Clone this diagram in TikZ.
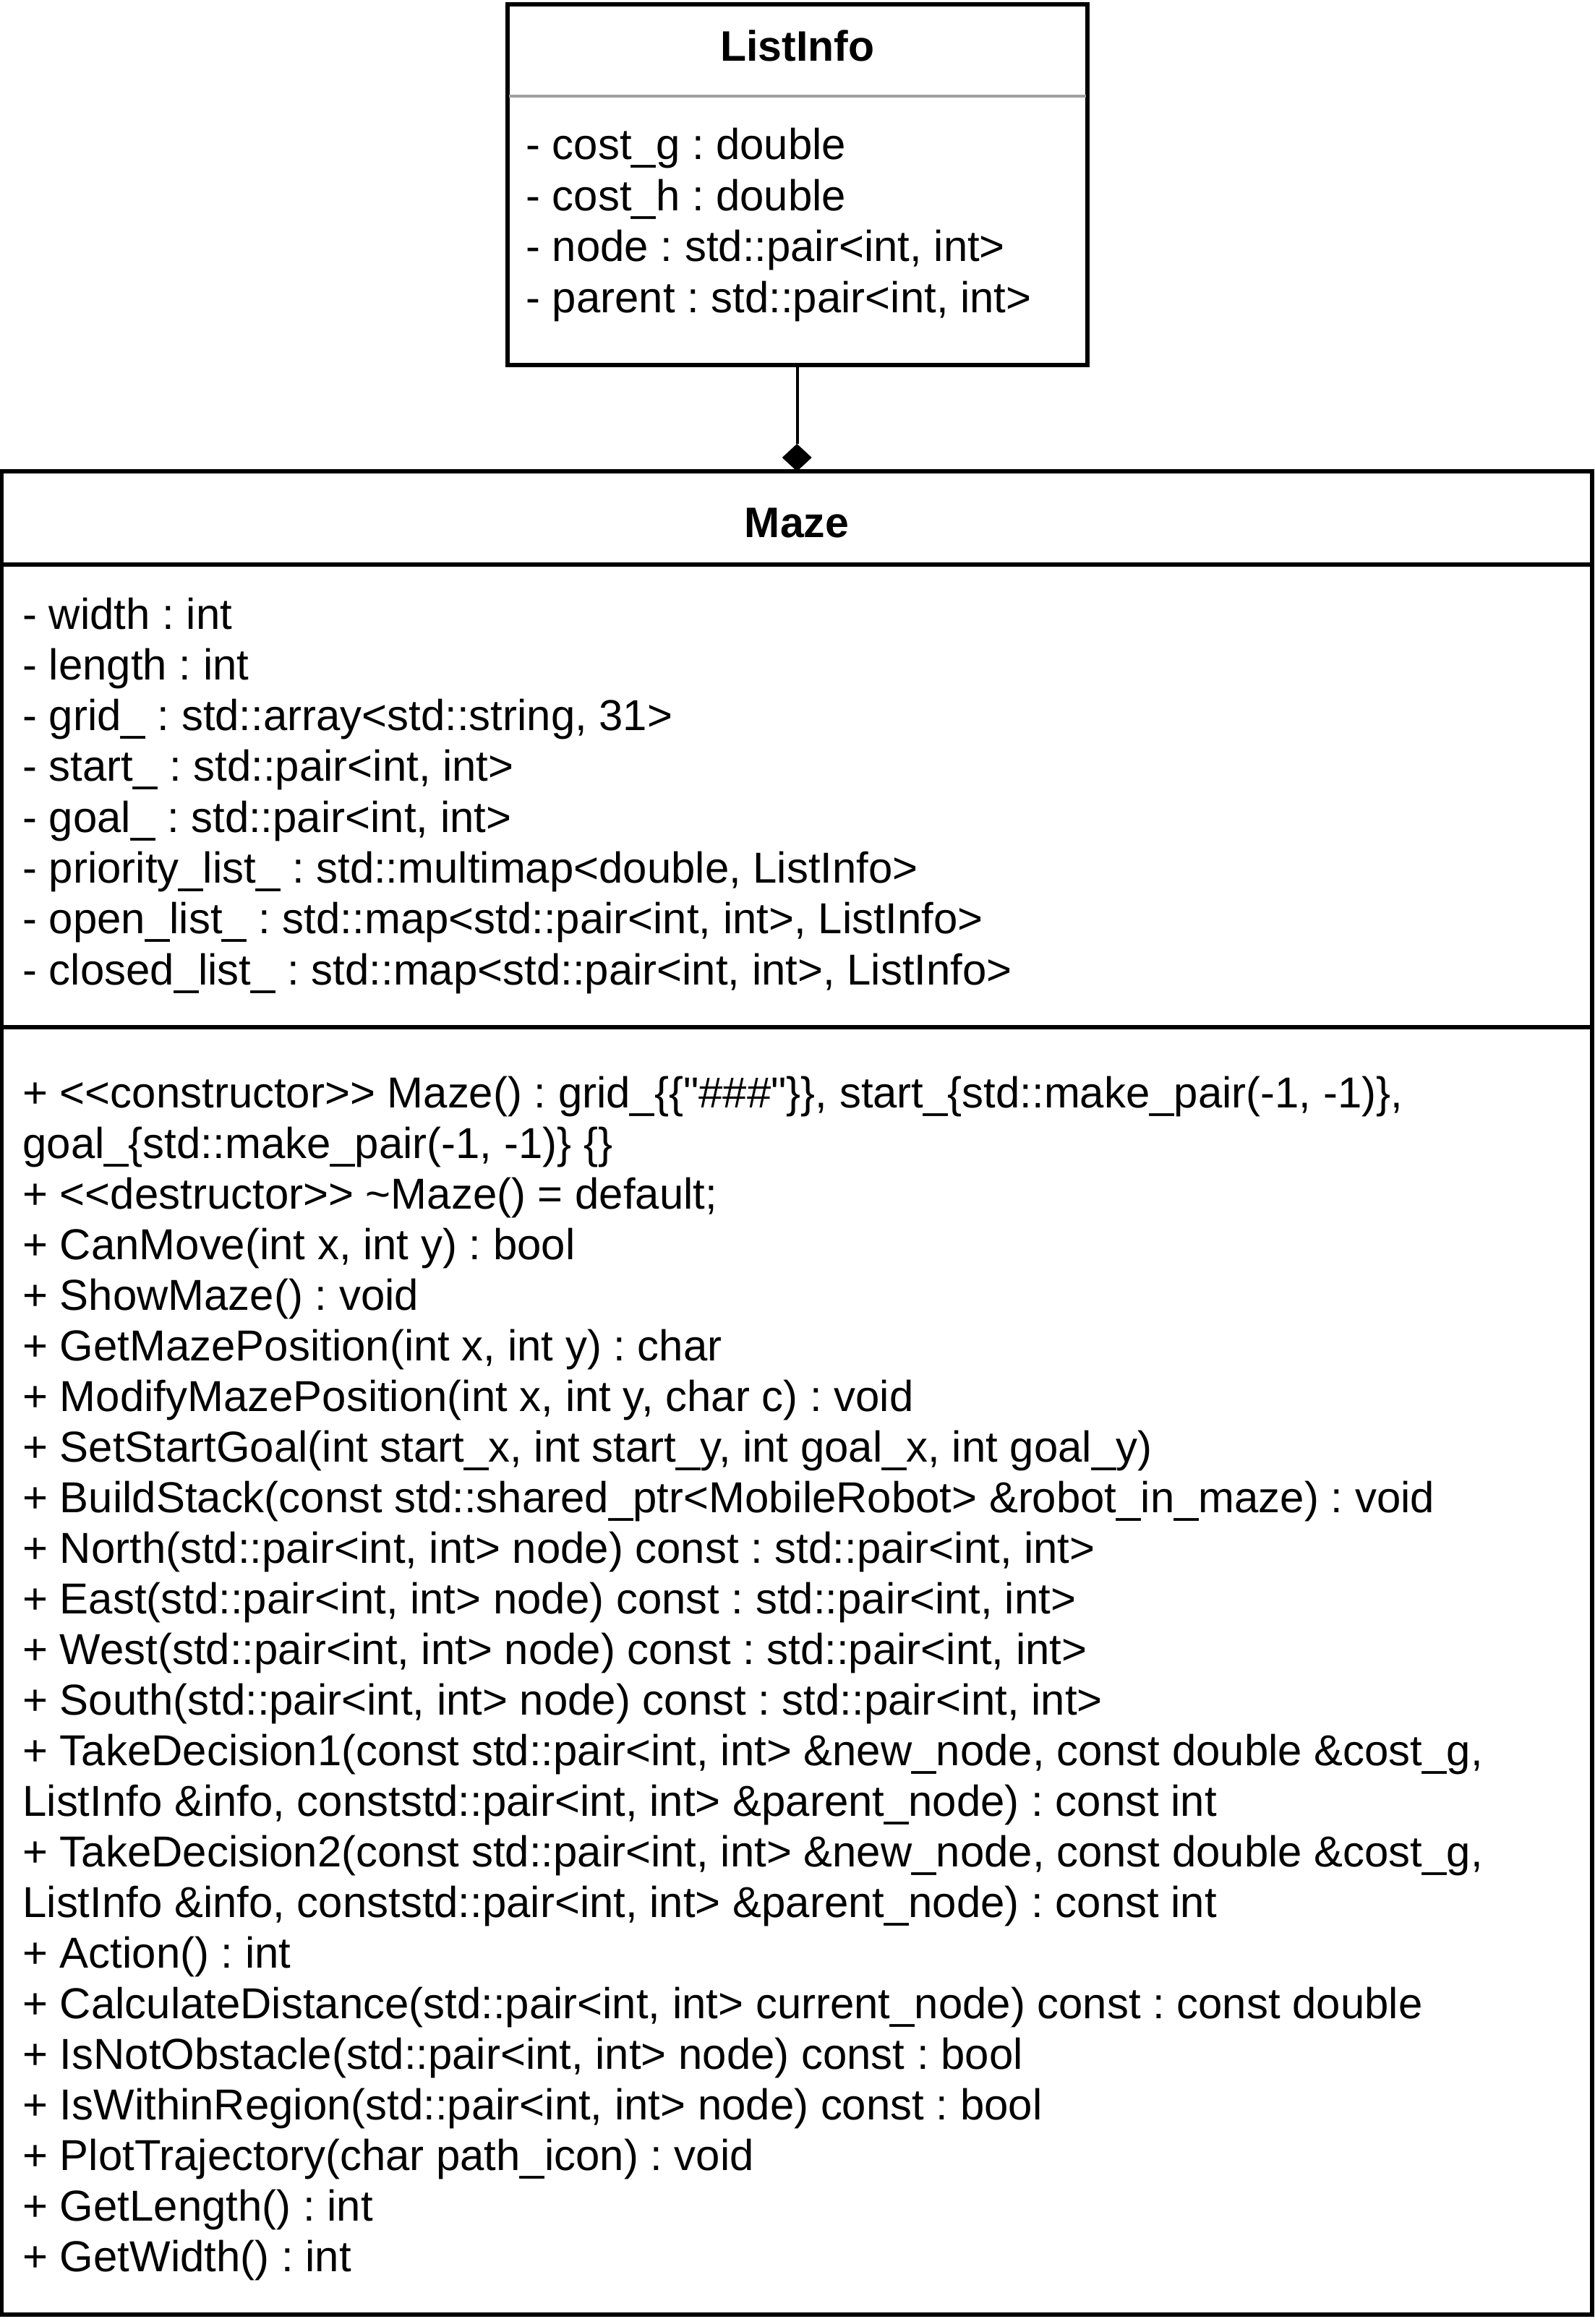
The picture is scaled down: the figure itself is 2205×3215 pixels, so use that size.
\documentclass[tikz,border=0pt]{standalone}
\usepackage{fontspec}
\setmainfont{Liberation Sans}[Ligatures=TeXOff]
\usetikzlibrary{shapes.geometric}
\definecolor{divgray}{HTML}{A0A0A0}
\frenchspacing
\begin{document}
\frenchspacing
\begin{tikzpicture}[x=0.5pt,y=-0.5pt,
  box/.style={draw, line width=2.75pt, inner sep=0, outer sep=0, anchor=north west},
  classtitle/.style={font=\fontsize{29.5}{35}\selectfont\bfseries, anchor=base, inner sep=0},
  member/.style={font=\fontsize{29.95}{35}\selectfont\frenchspacing, anchor=base west, inner sep=0},
  divider/.style={line width=2.75pt},
  softdivider/.style={line width=2pt, draw=divgray},
  link/.style={line width=2.4pt},
  compdiamond/.style={diamond, fill=black, minimum width=20.5pt, minimum height=19pt, inner sep=0, outer sep=0, anchor=south}
]
\useasboundingbox (0,0) rectangle (2205,3215);

% ListInfo class
\node[box, minimum width=401pt, minimum height=249.5pt] (listinfo) at (702,6) {};
\node[classtitle] (listinfotitle) at (1103,85) {ListInfo};
\draw[softdivider] (704,133) -- (1502,133);
\node[member] (li1) at (727,221) {- cost\_g : double};
\node[member] (li2) at (727,291.4) {- cost\_h : double};
\node[member] (li3) at (727,361.8) {- node : std::pair<int, int>};
\node[member] (li4) at (727,432.2) {- parent : std::pair<int, int>};

% Maze class
\node[box, minimum width=1099.75pt, minimum height=1275pt] (maze) at (2.5,652) {};
\node[classtitle] (mazetitle) at (1102,743) {Maze};
\draw[divider] (2.5,781) -- (2202,781);
\draw[divider] (2.5,1421) -- (2202,1421);

\node[member] (ma1) at (31,870) {- width : int};
\node[member] (ma2) at (31,940.3) {- length : int};
\node[member] (ma3) at (31,1010.6) {- grid\_ : std::array<std::string, 31>};
\node[member] (ma4) at (31,1080.9) {- start\_ : std::pair<int, int>};
\node[member] (ma5) at (31,1151.2) {- goal\_ : std::pair<int, int>};
\node[member] (ma6) at (31,1221.5) {- priority\_list\_ : std::multimap<double, ListInfo>};
\node[member] (ma7) at (31,1291.8) {- open\_list\_ : std::map<std::pair<int, int>, ListInfo>};
\node[member] (ma8) at (31,1362.1) {- closed\_list\_ : std::map<std::pair<int, int>, ListInfo>};

\node[member] (mo1) at (31,1532) {+ <<constructor>> Maze() : grid\_\{\{"\#\#\#"\}\}, start\_\{std::make\_pair(-1, -1)\},};
\node[member] (mo2) at (31,1602) {goal\_\{std::make\_pair(-1, -1)\} \{\}};
\node[member] (mo3) at (31,1672) {+ <<destructor>> \textasciitilde Maze() = default;};
\node[member] (mo4) at (31,1742) {+ CanMove(int x, int y) : bool};
\node[member] (mo5) at (31,1812) {+ ShowMaze() : void};
\node[member] (mo6) at (31,1882) {+ GetMazePosition(int x, int y) : char};
\node[member] (mo7) at (31,1952) {+ ModifyMazePosition(int x, int y, char c) : void};
\node[member] (mo8) at (31,2022) {+ SetStartGoal(int start\_x, int start\_y, int goal\_x, int goal\_y)};
\node[member] (mo9) at (31,2092) {+ BuildStack(const std::shared\_ptr<MobileRobot> \&robot\_in\_maze) : void};
\node[member] (mo10) at (31,2162) {+ North(std::pair<int, int> node) const : std::pair<int, int>};
\node[member] (mo11) at (31,2232) {+ East(std::pair<int, int> node) const : std::pair<int, int>};
\node[member] (mo12) at (31,2302) {+ West(std::pair<int, int> node) const : std::pair<int, int>};
\node[member] (mo13) at (31,2372) {+ South(std::pair<int, int> node) const : std::pair<int, int>};
\node[member] (mo14) at (31,2442) {+ TakeDecision1(const std::pair<int, int> \&new\_node, const double \&cost\_g,};
\node[member] (mo15) at (31,2512) {ListInfo \&info, conststd::pair<int, int> \&parent\_node) : const int};
\node[member] (mo16) at (31,2582) {+ TakeDecision2(const std::pair<int, int> \&new\_node, const double \&cost\_g,};
\node[member] (mo17) at (31,2652) {ListInfo \&info, conststd::pair<int, int> \&parent\_node) : const int};
\node[member] (mo18) at (31,2722) {+ Action() : int};
\node[member] (mo19) at (31,2792) {+ CalculateDistance(std::pair<int, int> current\_node) const : const double};
\node[member] (mo20) at (31,2862) {+ IsNotObstacle(std::pair<int, int> node) const : bool};
\node[member] (mo21) at (31,2932) {+ IsWithinRegion(std::pair<int, int> node) const : bool};
\node[member] (mo22) at (31,3002) {+ PlotTrajectory(char path\_icon) : void};
\node[member] (mo23) at (31,3072) {+ GetLength() : int};
\node[member] (mo24) at (31,3142) {+ GetWidth() : int};

% composition connector
\node[compdiamond] (comp) at (maze.north) {};
\draw[link] (listinfo.south) -- (listinfo.south |- comp.north);
\end{tikzpicture}
\end{document}
